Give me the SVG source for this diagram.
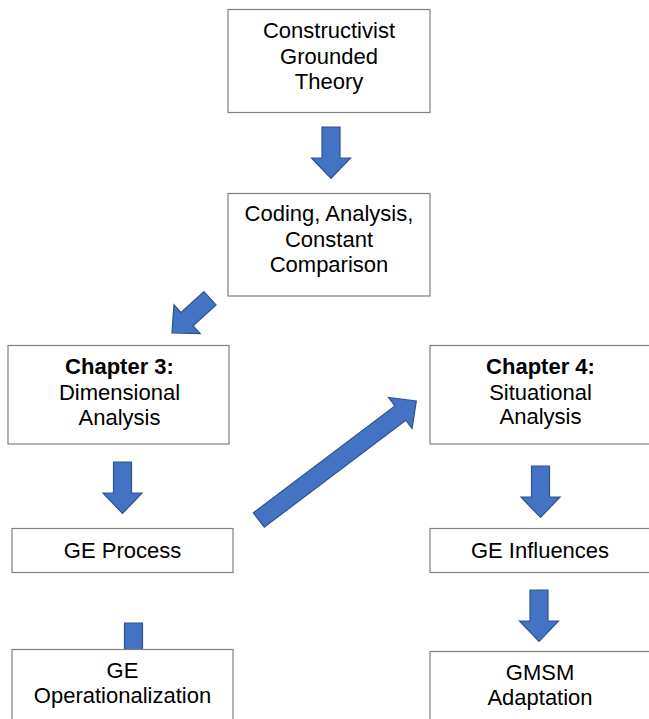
<svg xmlns="http://www.w3.org/2000/svg" xmlns:xlink="http://www.w3.org/1999/xlink" width="649" height="719" viewBox="0 0 649 719">
  <style>
    .box { fill: #ffffff; stroke: #808080; stroke-width: 1.2; }
    .arrow { fill: #4472C4; stroke: #2F528F; stroke-width: 1.2; stroke-linejoin: miter; }
    text { font-family: "Liberation Sans", Arial, Helvetica, sans-serif; font-size: 22px; fill: #000000; text-anchor: middle; }
    .b { font-weight: bold; }
  </style>
  <defs>
    <path id="downArrow" d="M -9 0 L 9 0 L 9 31 L 19.5 31 L 0 51.5 L -19.5 31 L -9 31 Z"/>
    <path id="longArrow" d="M -9 0 L 9 0 L 9 177.4 L 19.5 177.4 L 0 197.4 L -19.5 177.4 L -9 177.4 Z"/>
  </defs>
  <rect width="649" height="719" fill="#ffffff"/>

  <g id="connectors">
    <use xlink:href="#downArrow" class="arrow" transform="translate(331,127)"/>
    <use xlink:href="#downArrow" class="arrow" transform="translate(210,298.3) rotate(47.6)"/>
    <use xlink:href="#downArrow" class="arrow" transform="translate(122.5,462)"/>
    <use xlink:href="#longArrow" class="arrow" transform="translate(258.8,520) rotate(-127.07)"/>
    <use xlink:href="#downArrow" class="arrow" transform="translate(540.5,466)"/>
    <use xlink:href="#downArrow" class="arrow" transform="translate(539,590)"/>
    <use xlink:href="#downArrow" class="arrow" transform="translate(133.5,623)"/>
  </g>

  <g id="node-cgt">
    <rect class="box" x="228" y="9.5" width="202" height="103"/>
    <text x="329" y="38">Constructivist</text>
    <text x="329" y="63.5">Grounded</text>
    <text x="329" y="89">Theory</text>
  </g>

  <g id="node-coding">
    <rect class="box" x="228" y="193.5" width="202" height="102.5"/>
    <text x="329" y="221">Coding, Analysis,</text>
    <text x="329" y="246.5">Constant</text>
    <text x="329" y="272">Comparison</text>
  </g>

  <g id="node-ch3">
    <rect class="box" x="8" y="345.5" width="221" height="98.5"/>
    <text x="119.5" y="374" class="b">Chapter 3:</text>
    <text x="119.5" y="400">Dimensional</text>
    <text x="119.5" y="425">Analysis</text>
  </g>

  <g id="node-ch4">
    <rect class="box" x="430" y="345.5" width="225" height="98.5"/>
    <text x="540.5" y="374" class="b">Chapter 4:</text>
    <text x="540.5" y="400">Situational</text>
    <text x="540.5" y="424">Analysis</text>
  </g>

  <g id="node-ge-process">
    <rect class="box" x="12" y="528.5" width="221" height="44"/>
    <text x="122.5" y="558">GE Process</text>
  </g>

  <g id="node-ge-influences">
    <rect class="box" x="430" y="528.5" width="225" height="44"/>
    <text x="540" y="558">GE Influences</text>
  </g>

  <g id="node-ge-op">
    <rect class="box" x="12" y="649.5" width="221" height="90"/>
    <text x="122.5" y="677.5">GE</text>
    <text x="122.5" y="703">Operationalization</text>
  </g>

  <g id="node-gmsm">
    <rect class="box" x="430" y="651.5" width="225" height="90"/>
    <text x="540" y="679.5">GMSM</text>
    <text x="540" y="705">Adaptation</text>
  </g>
</svg>
